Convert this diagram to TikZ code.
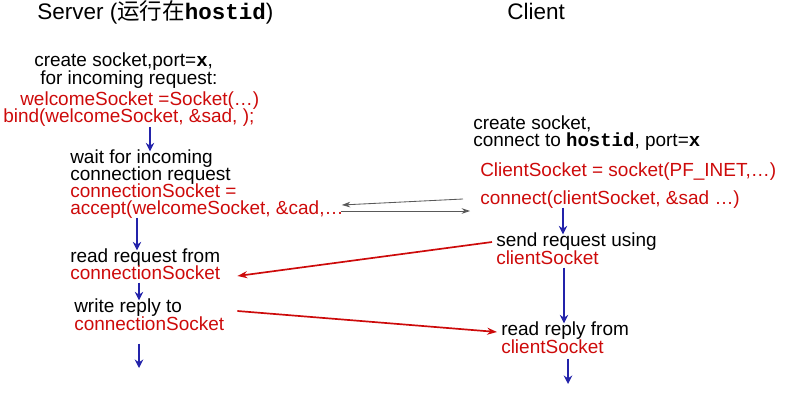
\documentclass[tikz,border=0pt]{standalone}
\usepackage{fontspec}
\setmainfont{Liberation Sans}
\setmonofont{Liberation Mono}
\newfontfamily\cjk{Noto Sans CJK SC}
\usetikzlibrary{arrows.meta,calc}

\definecolor{codered}{RGB}{205,10,10}
\definecolor{flowblue}{RGB}{35,35,170}

\tikzset{
  txt/.style={anchor=west,inner sep=0pt,text height=8.5pt,text depth=2pt,
    font=\fontsize{13.5}{15}\selectfont},
  code/.style={txt,text=codered},
  head/.style={txt,font=\fontsize{16}{18}\selectfont},
  flow/.style={draw=flowblue,line width=1.6pt,-{Stealth[length=6pt,width=6pt]}},
  msg/.style={draw=codered,line width=1.2pt,-{Stealth[length=7pt,width=5pt]}},
  hand/.style={draw=black!65,line width=.6pt,-{Stealth[length=6pt,width=4pt]}}
}
\newcommand{\hid}{\texttt{\bfseries hostid}}
\newcommand{\portx}{\texttt{\bfseries x}}

\begin{document}
\begin{tikzpicture}[x=0.025cm,y=-0.025cm]
      \useasboundingbox (0,0) rectangle (787,400);

      % server
      \node[head] (srv) at (37,15) {Server ({\cjk 运行在}\hid)};
      \node[txt] (mk1) at (34,62) {create socket,port=\portx,};
      \node[txt] (mk2) at (40,80) {for incoming request:};
      \node[code] (welc) at (20,101) {welcomeSocket =Socket(\ldots)};
      \node[code] (bind) at (3,118) {bind(welcomeSocket, \&sad, );};
      \node[txt] (wait) at (70,159) {wait for incoming};
      \node[txt] (creq) at (70,176) {connection request};
      \node[code] (csock) at (70,193) {connectionSocket =};
      \node[code] (accept) at (70,210) {accept(welcomeSocket, \&cad,\ldots};
      \node[txt] (rreq) at (70,258) {read request from};
      \node[code] (rsock) at (70,275) {connectionSocket};
      \node[txt] (wrep) at (74,308) {write reply to};
      \node[code] (wsock) at (74,326) {connectionSocket};
      \coordinate (send) at (139,368);

      % client
      \node[head] (cli) at (507,15) {Client};
      \node[txt] (ck1) at (473,125) {create socket,};
      \node[txt] (ck2) at (473,142) {connect to \hid, port=\portx};
      \node[code] (cs) at (480,172) {ClientSocket = socket(PF\_INET,\ldots)};
      \node[code] (conn) at (480,200) {connect(clientSocket, \&sad \ldots)};
      \node[txt] (sreq) at (496,242) {send request using};
      \node[code] (ssock) at (496,260) {clientSocket};
      \node[txt] (rrep) at (501,331) {read reply from};
      \node[code] (rcs) at (501,349) {clientSocket};
      \coordinate (cend) at (568,384);

      % flow down
      \draw[flow] (150,127) -- (wait.north -| 150,0);
      \draw[flow] (accept.south -| 137,0) -- (rreq.north -| 137,0);
      \draw[flow] (rsock.south -| 139,0) -- (wrep.north -| 139,0);
      \draw[flow] (wsock.south -| send) ++(0,10) -- (send);
      \draw[flow] (conn.south -| 563,0) -- (sreq.north -| 563,0);
      \draw[flow] (ssock.south -| 564,0) -- (rrep.north -| 564,0);
      \draw[flow] (rcs.south -| cend) ++(0,2) -- (cend);

      % handshake
      \draw[hand] ($(conn.west)+(-17,-1)$) -- ($(accept.east)+(-2,-5)$);
      \draw[hand] ($(accept.east)+(-3,1)$) -- ($(conn.west)+(-10,11)$);

      % request / reply
      \draw[msg] ($(sreq.west)+(-4,0)$) -- ($(rsock.east)+(17,1)$);
      \draw[msg] ($(wrep.east -| wsock.east)+(13,3)$) -- ($(rrep.west)+(-4,1)$);

    \end{tikzpicture}
\end{document}
